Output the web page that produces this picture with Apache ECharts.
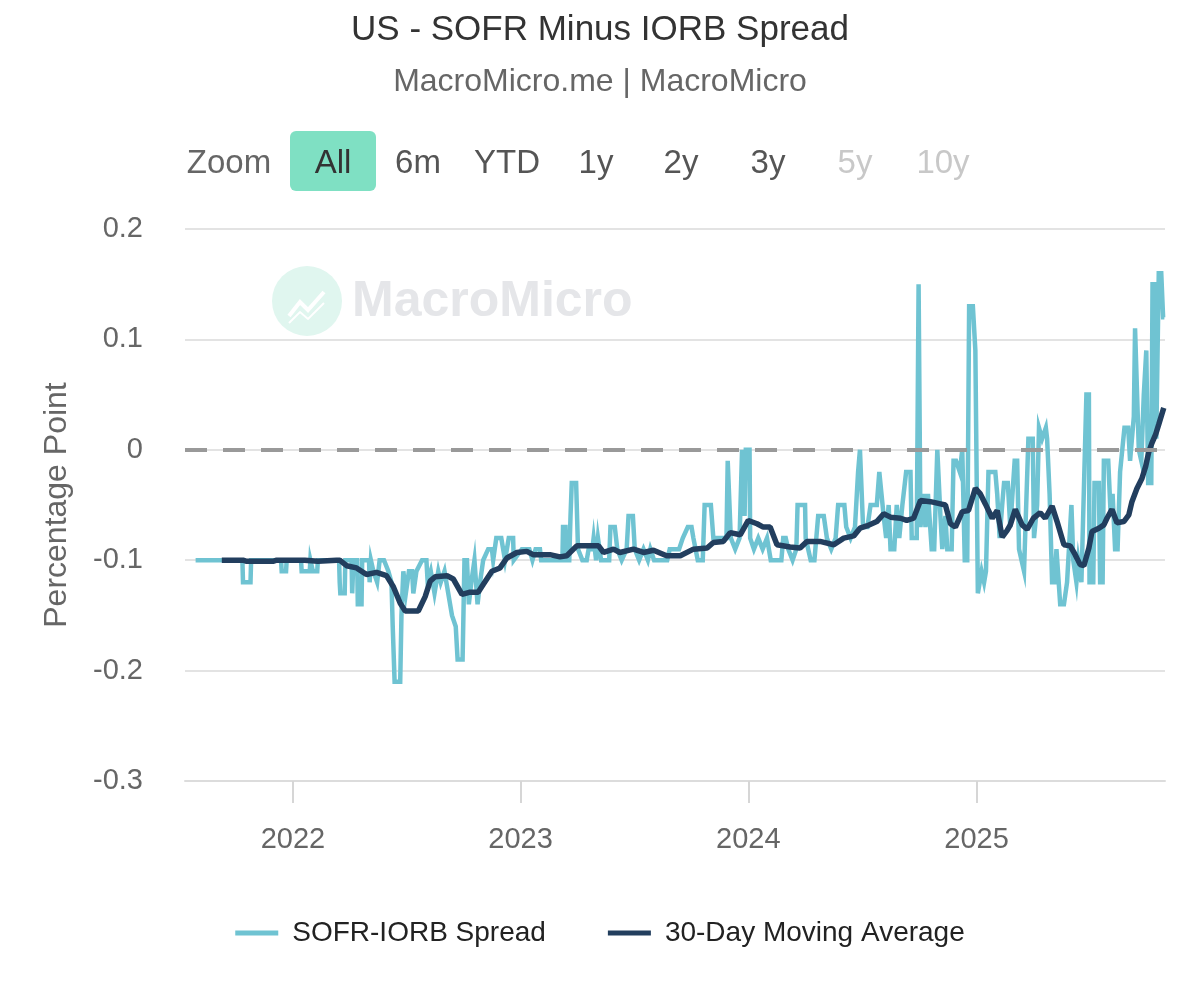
<!DOCTYPE html>
<html><head><meta charset="utf-8">
<script src="https://cdn.jsdelivr.net/npm/echarts@6/dist/echarts.min.js"></script>
<style>html,body{margin:0;padding:0;background:#fff}#chart{width:1200px;height:981px}</style>
</head><body><div id="chart"></div>
<script>
// SOFR minus IORB spread (percentage points)
const spreadData = [
['2021-07-29',-0.10],['2021-10-12',-0.10],['2021-10-13',-0.12],['2021-10-25',-0.12],['2021-10-26',-0.10],
['2021-12-13',-0.10],['2021-12-14',-0.11],['2021-12-21',-0.11],['2021-12-22',-0.10],
['2022-01-14',-0.10],['2022-01-15',-0.11],['2022-01-28',-0.11],['2022-01-29',-0.10],['2022-02-01',-0.10],
['2022-02-02',-0.11],['2022-02-09',-0.11],['2022-02-10',-0.10],['2022-03-16',-0.10],['2022-03-17',-0.12],
['2022-03-18',-0.13],['2022-03-25',-0.13],['2022-03-26',-0.10],['2022-04-05',-0.10],['2022-04-06',-0.13],
['2022-04-08',-0.10],['2022-04-14',-0.10],['2022-04-15',-0.14],['2022-04-21',-0.14],['2022-04-22',-0.10],
['2022-05-03',-0.10],['2022-05-04',-0.12],['2022-05-06',-0.10],['2022-05-10',-0.11],['2022-05-16',-0.12],
['2022-05-20',-0.10],['2022-05-27',-0.10],['2022-06-03',-0.11],['2022-06-08',-0.12],['2022-06-10',-0.16],
['2022-06-13',-0.21],['2022-06-22',-0.21],['2022-06-24',-0.15],['2022-06-27',-0.11],['2022-07-01',-0.13],
['2022-07-06',-0.11],['2022-07-11',-0.11],['2022-07-13',-0.13],['2022-07-18',-0.11],['2022-07-27',-0.10],
['2022-08-03',-0.10],['2022-08-05',-0.12],['2022-08-10',-0.11],['2022-08-16',-0.13],['2022-08-22',-0.11],
['2022-08-26',-0.12],['2022-09-01',-0.11],['2022-09-07',-0.13],['2022-09-13',-0.15],['2022-09-19',-0.16],
['2022-09-22',-0.19],['2022-09-30',-0.19],['2022-10-03',-0.10],['2022-10-07',-0.10],['2022-10-10',-0.14],
['2022-10-14',-0.12],['2022-10-19',-0.10],['2022-10-24',-0.14],['2022-10-28',-0.12],['2022-11-02',-0.10],
['2022-11-10',-0.09],['2022-11-16',-0.09],['2022-11-18',-0.10],['2022-11-23',-0.08],['2022-12-01',-0.08],
['2022-12-07',-0.10],['2022-12-13',-0.08],['2022-12-20',-0.08],['2022-12-21',-0.10],['2023-01-03',-0.09],
['2023-01-15',-0.09],['2023-01-20',-0.10],['2023-01-25',-0.09],['2023-02-01',-0.09],['2023-02-03',-0.10],
['2023-03-09',-0.10],['2023-03-10',-0.07],['2023-03-14',-0.07],['2023-03-15',-0.10],['2023-03-20',-0.10],
['2023-03-22',-0.06],['2023-03-24',-0.03],['2023-03-31',-0.03],['2023-04-03',-0.09],['2023-04-10',-0.10],
['2023-04-17',-0.10],['2023-04-20',-0.09],['2023-04-26',-0.09],['2023-04-28',-0.08],['2023-05-02',-0.10],
['2023-05-05',-0.08],['2023-05-10',-0.10],['2023-05-23',-0.10],['2023-05-25',-0.07],['2023-06-01',-0.07],
['2023-06-05',-0.09],['2023-06-12',-0.10],['2023-06-20',-0.09],['2023-06-23',-0.06],['2023-06-30',-0.06],
['2023-07-03',-0.09],['2023-07-10',-0.10],['2023-07-17',-0.09],['2023-07-24',-0.10],['2023-07-28',-0.09],
['2023-08-03',-0.10],['2023-08-24',-0.10],['2023-08-28',-0.09],['2023-09-12',-0.09],['2023-09-18',-0.08],
['2023-09-26',-0.07],['2023-10-02',-0.07],['2023-10-05',-0.08],['2023-10-12',-0.10],['2023-10-20',-0.10],
['2023-10-23',-0.05],['2023-11-02',-0.05],['2023-11-06',-0.08],['2023-11-27',-0.08],['2023-11-29',-0.01],
['2023-12-01',-0.01],['2023-12-04',-0.08],['2023-12-11',-0.09],['2023-12-18',-0.08],['2023-12-21',-0.08],
['2023-12-22',0.00],['2023-12-26',-0.06],['2023-12-28',0.00],['2024-01-03',0.00],['2024-01-04',-0.08],
['2024-01-10',-0.09],['2024-01-17',-0.08],['2024-01-24',-0.09],['2024-01-31',-0.08],['2024-02-06',-0.10],
['2024-02-23',-0.10],['2024-02-26',-0.08],['2024-03-01',-0.08],['2024-03-05',-0.09],['2024-03-12',-0.10],
['2024-03-18',-0.09],['2024-03-20',-0.05],['2024-04-01',-0.05],['2024-04-02',-0.08],['2024-04-10',-0.10],
['2024-04-16',-0.10],['2024-04-22',-0.06],['2024-05-01',-0.06],['2024-05-06',-0.08],['2024-05-13',-0.09],
['2024-05-20',-0.08],['2024-05-24',-0.05],['2024-06-03',-0.05],['2024-06-06',-0.07],['2024-06-13',-0.08],
['2024-06-20',-0.07],['2024-06-25',-0.02],['2024-06-28',0.00],['2024-07-01',0.00],['2024-07-03',-0.07],
['2024-07-10',-0.07],['2024-07-15',-0.05],['2024-07-25',-0.05],['2024-07-29',-0.02],['2024-08-01',-0.02],
['2024-08-05',-0.06],['2024-08-09',-0.08],['2024-08-13',-0.05],['2024-08-16',-0.09],['2024-08-22',-0.09],
['2024-08-26',-0.05],['2024-08-30',-0.08],['2024-09-04',-0.05],['2024-09-10',-0.02],['2024-09-17',-0.02],
['2024-09-19',-0.08],['2024-09-27',-0.08],['2024-09-30',0.15],['2024-10-02',0.15],['2024-10-03',-0.07],
['2024-10-08',-0.04],['2024-10-11',-0.07],['2024-10-15',-0.04],['2024-10-21',-0.09],['2024-10-25',-0.09],
['2024-10-30',0.00],['2024-11-01',0.00],['2024-11-04',-0.06],['2024-11-07',-0.09],['2024-11-12',-0.06],
['2024-11-15',-0.09],['2024-11-22',-0.09],['2024-11-25',-0.01],['2024-11-29',-0.01],['2024-12-05',-0.02],
['2024-12-09',0.00],['2024-12-13',-0.10],['2024-12-17',-0.10],['2024-12-20',0.13],['2024-12-26',0.13],
['2024-12-30',0.09],['2025-01-02',0.09],['2025-01-03',-0.13],['2025-01-06',-0.13],['2025-01-09',-0.11],
['2025-01-13',-0.12],['2025-01-16',-0.11],['2025-01-20',-0.02],['2025-01-31',-0.02],['2025-02-03',-0.04],
['2025-02-07',-0.08],['2025-02-11',-0.05],['2025-02-14',-0.03],['2025-02-20',-0.03],['2025-02-24',-0.07],
['2025-03-03',-0.01],['2025-03-07',-0.01],['2025-03-10',-0.09],['2025-03-14',-0.10],['2025-03-18',-0.11],
['2025-03-21',-0.11],['2025-03-25',0.01],['2025-04-01',0.01],['2025-04-03',-0.08],['2025-04-08',-0.05],
['2025-04-11',0.02],['2025-04-16',0.01],['2025-04-22',0.02],['2025-04-24',0.01],['2025-04-28',-0.04],
['2025-05-02',-0.12],['2025-05-06',-0.12],['2025-05-09',-0.09],['2025-05-15',-0.14],['2025-05-21',-0.14],
['2025-05-26',-0.12],['2025-06-02',-0.05],['2025-06-05',-0.10],['2025-06-10',-0.12],['2025-06-13',-0.10],
['2025-06-18',-0.12],['2025-06-26',0.05],['2025-06-30',0.05],['2025-07-01',-0.12],['2025-07-07',-0.12],
['2025-07-09',-0.03],['2025-07-16',-0.03],['2025-07-18',-0.12],['2025-07-22',-0.12],['2025-07-24',-0.01],
['2025-07-31',-0.01],['2025-08-04',-0.06],['2025-08-07',-0.04],['2025-08-11',-0.09],['2025-08-15',-0.09],
['2025-08-19',-0.02],['2025-08-26',0.02],['2025-09-01',0.02],['2025-09-04',-0.01],['2025-09-10',0.03],
['2025-09-12',0.11],['2025-09-15',0.11],['2025-09-18',0.00],['2025-09-22',-0.01],['2025-09-26',0.05],
['2025-09-30',0.09],['2025-10-01',0.09],['2025-10-03',-0.03],['2025-10-08',-0.03],['2025-10-10',0.15],
['2025-10-14',0.15],['2025-10-16',0.01],['2025-10-20',0.16],['2025-10-24',0.16],['2025-10-27',0.12],
['2025-10-29',0.12]
];

// 30-day moving average
const movingAvg = [
['2021-09-09',-0.100],['2021-10-13',-0.100],['2021-10-19',-0.101],['2021-11-30',-0.101],['2021-12-06',-0.100],
['2022-01-20',-0.100],['2022-02-10',-0.101],['2022-03-12',-0.100],['2022-03-17',-0.100],['2022-03-28',-0.105],
['2022-04-13',-0.107],['2022-04-29',-0.113],['2022-05-15',-0.111],['2022-05-31',-0.114],['2022-06-11',-0.124],
['2022-06-22',-0.139],['2022-06-30',-0.146],['2022-07-21',-0.146],['2022-08-01',-0.133],['2022-08-09',-0.119],
['2022-08-17',-0.115],['2022-09-05',-0.114],['2022-09-15',-0.117],['2022-09-29',-0.131],['2022-10-12',-0.129],
['2022-10-25',-0.129],['2022-11-02',-0.122],['2022-11-16',-0.110],['2022-11-29',-0.107],['2022-12-10',-0.098],
['2022-12-26',-0.093],['2023-01-11',-0.092],['2023-01-21',-0.095],['2023-02-17',-0.095],['2023-03-05',-0.097],
['2023-03-16',-0.096],['2023-04-01',-0.087],['2023-04-22',-0.087],['2023-05-06',-0.087],['2023-05-14',-0.093],
['2023-05-30',-0.090],['2023-06-09',-0.093],['2023-07-01',-0.090],['2023-07-17',-0.093],['2023-08-02',-0.091],
['2023-08-23',-0.096],['2023-09-14',-0.096],['2023-10-05',-0.090],['2023-10-27',-0.089],['2023-11-06',-0.084],
['2023-11-22',-0.083],['2023-12-03',-0.075],['2023-12-19',-0.077],['2024-01-01',-0.064],['2024-01-15',-0.067],
['2024-01-25',-0.070],['2024-02-05',-0.070],['2024-02-16',-0.086],['2024-03-08',-0.088],['2024-03-24',-0.089],
['2024-04-04',-0.083],['2024-04-25',-0.083],['2024-05-17',-0.086],['2024-06-02',-0.080],['2024-06-18',-0.078],
['2024-06-28',-0.071],['2024-07-09',-0.069],['2024-07-25',-0.065],['2024-08-05',-0.058],['2024-08-16',-0.061],
['2024-09-01',-0.062],['2024-09-11',-0.064],['2024-09-22',-0.062],['2024-10-03',-0.046],['2024-10-19',-0.047],
['2024-11-04',-0.049],['2024-11-12',-0.050],['2024-11-20',-0.067],['2024-11-28',-0.070],['2024-12-09',-0.056],
['2024-12-19',-0.055],['2024-12-30',-0.035],['2025-01-07',-0.040],['2025-01-15',-0.049],['2025-01-26',-0.062],
['2025-02-03',-0.055],['2025-02-11',-0.079],['2025-02-19',-0.073],['2025-02-24',-0.068],['2025-03-04',-0.054],
['2025-03-15',-0.068],['2025-03-23',-0.072],['2025-04-02',-0.062],['2025-04-13',-0.057],['2025-04-21',-0.062],
['2025-05-02',-0.051],['2025-05-10',-0.065],['2025-05-21',-0.086],['2025-05-31',-0.087],['2025-06-08',-0.095],
['2025-06-16',-0.104],['2025-06-22',-0.105],['2025-06-30',-0.089],['2025-07-05',-0.074],['2025-07-16',-0.071],
['2025-07-24',-0.068],['2025-07-29',-0.062],['2025-08-06',-0.054],['2025-08-14',-0.066],['2025-08-25',-0.065],
['2025-09-02',-0.059],['2025-09-07',-0.047],['2025-09-15',-0.035],['2025-09-23',-0.026],['2025-09-29',-0.015],
['2025-10-04',-0.002],['2025-10-09',0.006],['2025-10-15',0.014],['2025-10-20',0.023],['2025-10-28',0.038]
];

const yearTicks = ['2022-01-01','2023-01-01','2024-01-01','2025-01-01'];
const xRange = ['2021-07-12','2025-10-30'];
const zoomLabels = ['All','6m','YTD','1y','2y','3y','5y','10y'];
const seriesNames = ['SOFR-IORB Spread','30-Day Moving Average'];

const FONT = '"Liberation Sans", Arial, Helvetica, sans-serif';
const toTs = d => Date.UTC(+d.slice(0,4), +d.slice(5,7) - 1, +d.slice(8,10));
const yearTs = yearTicks.map(toTs);
const toPoints = arr => arr.map(p => [toTs(p[0]), p[1]]);

// range selector (decoration)
const zoomCenters = [333, 418, 507, 596, 681, 768, 855, 943];
const zoomColors = ['#333', '#555', '#555', '#555', '#555', '#555', '#c8c8c8', '#c8c8c8'];
const graphics = [
  {type:'rect', silent:true, shape:{x:290, y:131, width:86, height:60, r:6}, style:{fill:'#7fe0c3'}},
  {type:'text', silent:true, x:229, y:164, style:{text:'Zoom', font:'33px ' + FONT, fill:'#666', align:'center', verticalAlign:'middle'}}
];
zoomLabels.forEach((t, i) => {
  graphics.push({type:'text', silent:true, x:zoomCenters[i], y:164,
    style:{text:t, font:'33px ' + FONT, fill:zoomColors[i], align:'center', verticalAlign:'middle'}});
});
// watermark
graphics.push(
  {type:'circle', silent:true, z:-10, shape:{cx:307, cy:301, r:35}, style:{fill:'#e0f6ef'}},
  {type:'polyline', silent:true, z:-9, shape:{points:[[289,316],[300,302],[308,310],[324,292]]}, style:{stroke:'#fff', lineWidth:4, fill:null}},
  {type:'polyline', silent:true, z:-9, shape:{points:[[289,323],[300,312],[308,319],[324,303]]}, style:{stroke:'#fff', lineWidth:2, fill:null}},
  {type:'text', silent:true, z:-10, x:352, y:302, style:{text:'MacroMicro', font:'bold 50px ' + FONT, fill:'#e5e6e9', align:'left', verticalAlign:'middle'}}
);

const chart = echarts.init(document.getElementById('chart'), null, {renderer:'canvas'});
chart.setOption({
  animation:false,
  backgroundColor:'#fff',
  title:{
    text:'US - SOFR Minus IORB Spread', subtext:'MacroMicro.me | MacroMicro',
    left:'center', top:8, itemGap:18,
    textStyle:{fontFamily:FONT, fontSize:35, fontWeight:'normal', color:'#333'},
    subtextStyle:{fontFamily:FONT, fontSize:32, color:'#666'}
  },
  graphic:graphics,
  legend:{
    data:seriesNames, left:'center', top:914, icon:'rect', itemWidth:43, itemHeight:5, itemGap:62,
    textStyle:{fontFamily:FONT, fontSize:28, color:'#222', padding:[0,0,0,9]}
  },
  grid:{left:185, right:35, top:229, bottom:200, containLabel:false},
  xAxis:{
    type:'value', min:toTs(xRange[0]), max:toTs(xRange[1]),
    axisLine:{show:true, onZero:false, lineStyle:{color:'#dcdcdc', width:2}},
    axisTick:{show:true, length:22, lineStyle:{color:'#d6d6d6', width:2}, customValues:yearTs},
    axisLabel:{customValues:yearTs, margin:44, fontFamily:FONT, fontSize:29, color:'#666',
      formatter:v => String(new Date(v).getUTCFullYear())},
    splitLine:{show:false}
  },
  yAxis:{
    type:'value', min:-0.3, max:0.2, interval:0.1,
    name:'Percentage Point', nameLocation:'middle', nameGap:112, nameRotate:90,
    nameTextStyle:{fontFamily:FONT, fontSize:32, color:'#666'},
    axisLine:{show:false}, axisTick:{show:false},
    axisLabel:{margin:42, fontFamily:FONT, fontSize:29, color:'#666',
      formatter:v => String(Number(v.toFixed(1)))},
    splitLine:{lineStyle:{color:'#e3e3e3', width:2}}
  },
  series:[
    {name:'zeroLine', type:'line', data:[], z:1, silent:true,
      markLine:{silent:true, symbol:'none', label:{show:false}, animation:false,
        lineStyle:{color:'#999', width:4, type:[22,16]}, data:[{yAxis:0}]}},
    {name:seriesNames[0], type:'line', data:toPoints(spreadData), showSymbol:false, z:3,
      lineStyle:{color:'#6fc3d2', width:4.5, join:'miter'}, itemStyle:{color:'#6fc3d2'}},
    {name:seriesNames[1], type:'line', data:toPoints(movingAvg), showSymbol:false, z:4,
      lineStyle:{color:'#223e5e', width:5.5}, itemStyle:{color:'#223e5e'}}
  ]
});
</script></body></html>
